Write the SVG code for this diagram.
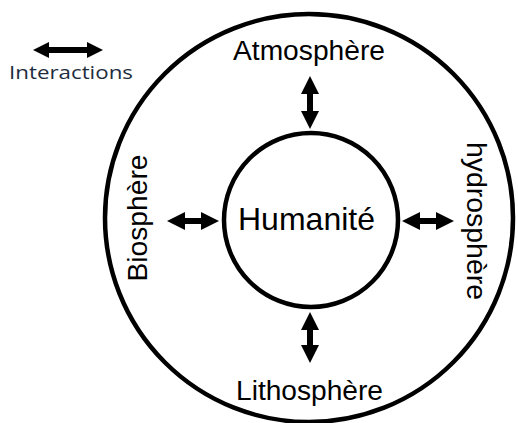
<svg xmlns="http://www.w3.org/2000/svg" width="518" height="423" viewBox="0 0 518 423">
<style>
.ring{fill:none;stroke:#000;stroke-width:4.5}
.arr{fill:#000;stroke:none}
.lbl{font-family:"Liberation Sans",Arial,sans-serif;font-size:27px;fill:#000;text-anchor:middle}
.leg{font-family:"Open Sans","Noto Sans",sans-serif;font-size:19px;fill:#1e2d3d}
</style>
<rect width="518" height="423" fill="#fff"/>
<g id="outer">
<circle class="ring" cx="309" cy="218" r="204"/>
</g>
<g id="humanite">
<circle class="ring" cx="311" cy="220" r="87"/>
<text class="lbl" x="306.5" y="230" style="font-size:32px" textLength="137" lengthAdjust="spacingAndGlyphs">Humanité</text>
</g>
<g id="atmosphere">
<text class="lbl" x="309" y="60" textLength="152" lengthAdjust="spacingAndGlyphs">Atmosphère</text>
</g>
<g id="lithosphere">
<text class="lbl" x="309.5" y="400" textLength="147" lengthAdjust="spacingAndGlyphs">Lithosphère</text>
</g>
<g id="biosphere">
<text class="lbl" transform="translate(147,218) rotate(-90)" x="0" y="0" textLength="127" lengthAdjust="spacingAndGlyphs">Biosphère</text>
</g>
<g id="hydrosphere">
<text class="lbl" transform="translate(467,221) rotate(90)" x="0" y="0" textLength="158" lengthAdjust="spacingAndGlyphs">hydrosphère</text>
</g>
<g id="legend">
<polygon class="arr" points="33,50 49,42 49,47 87,47 87,42 103,50 87,58 87,53 49,53 49,58"/>
<text class="leg" x="9" y="79" textLength="124" lengthAdjust="spacingAndGlyphs">Interactions</text>
</g>
<g id="connectors">
<polygon class="arr" points="310,76 319,94 313,94 313,111 319,111 310,129 301,111 307,111 307,94 301,94"/>
<polygon class="arr" points="310,312 319,330 313,330 313,345 319,345 310,363 301,345 307,345 307,330 301,330"/>
<polygon class="arr" points="167,221 185,212 185,218 201,218 201,212 219,221 201,230 201,224 185,224 185,230"/>
<polygon class="arr" points="402,221 420,212 420,218 436,218 436,212 454,221 436,230 436,224 420,224 420,230"/>
</g>
</svg>
